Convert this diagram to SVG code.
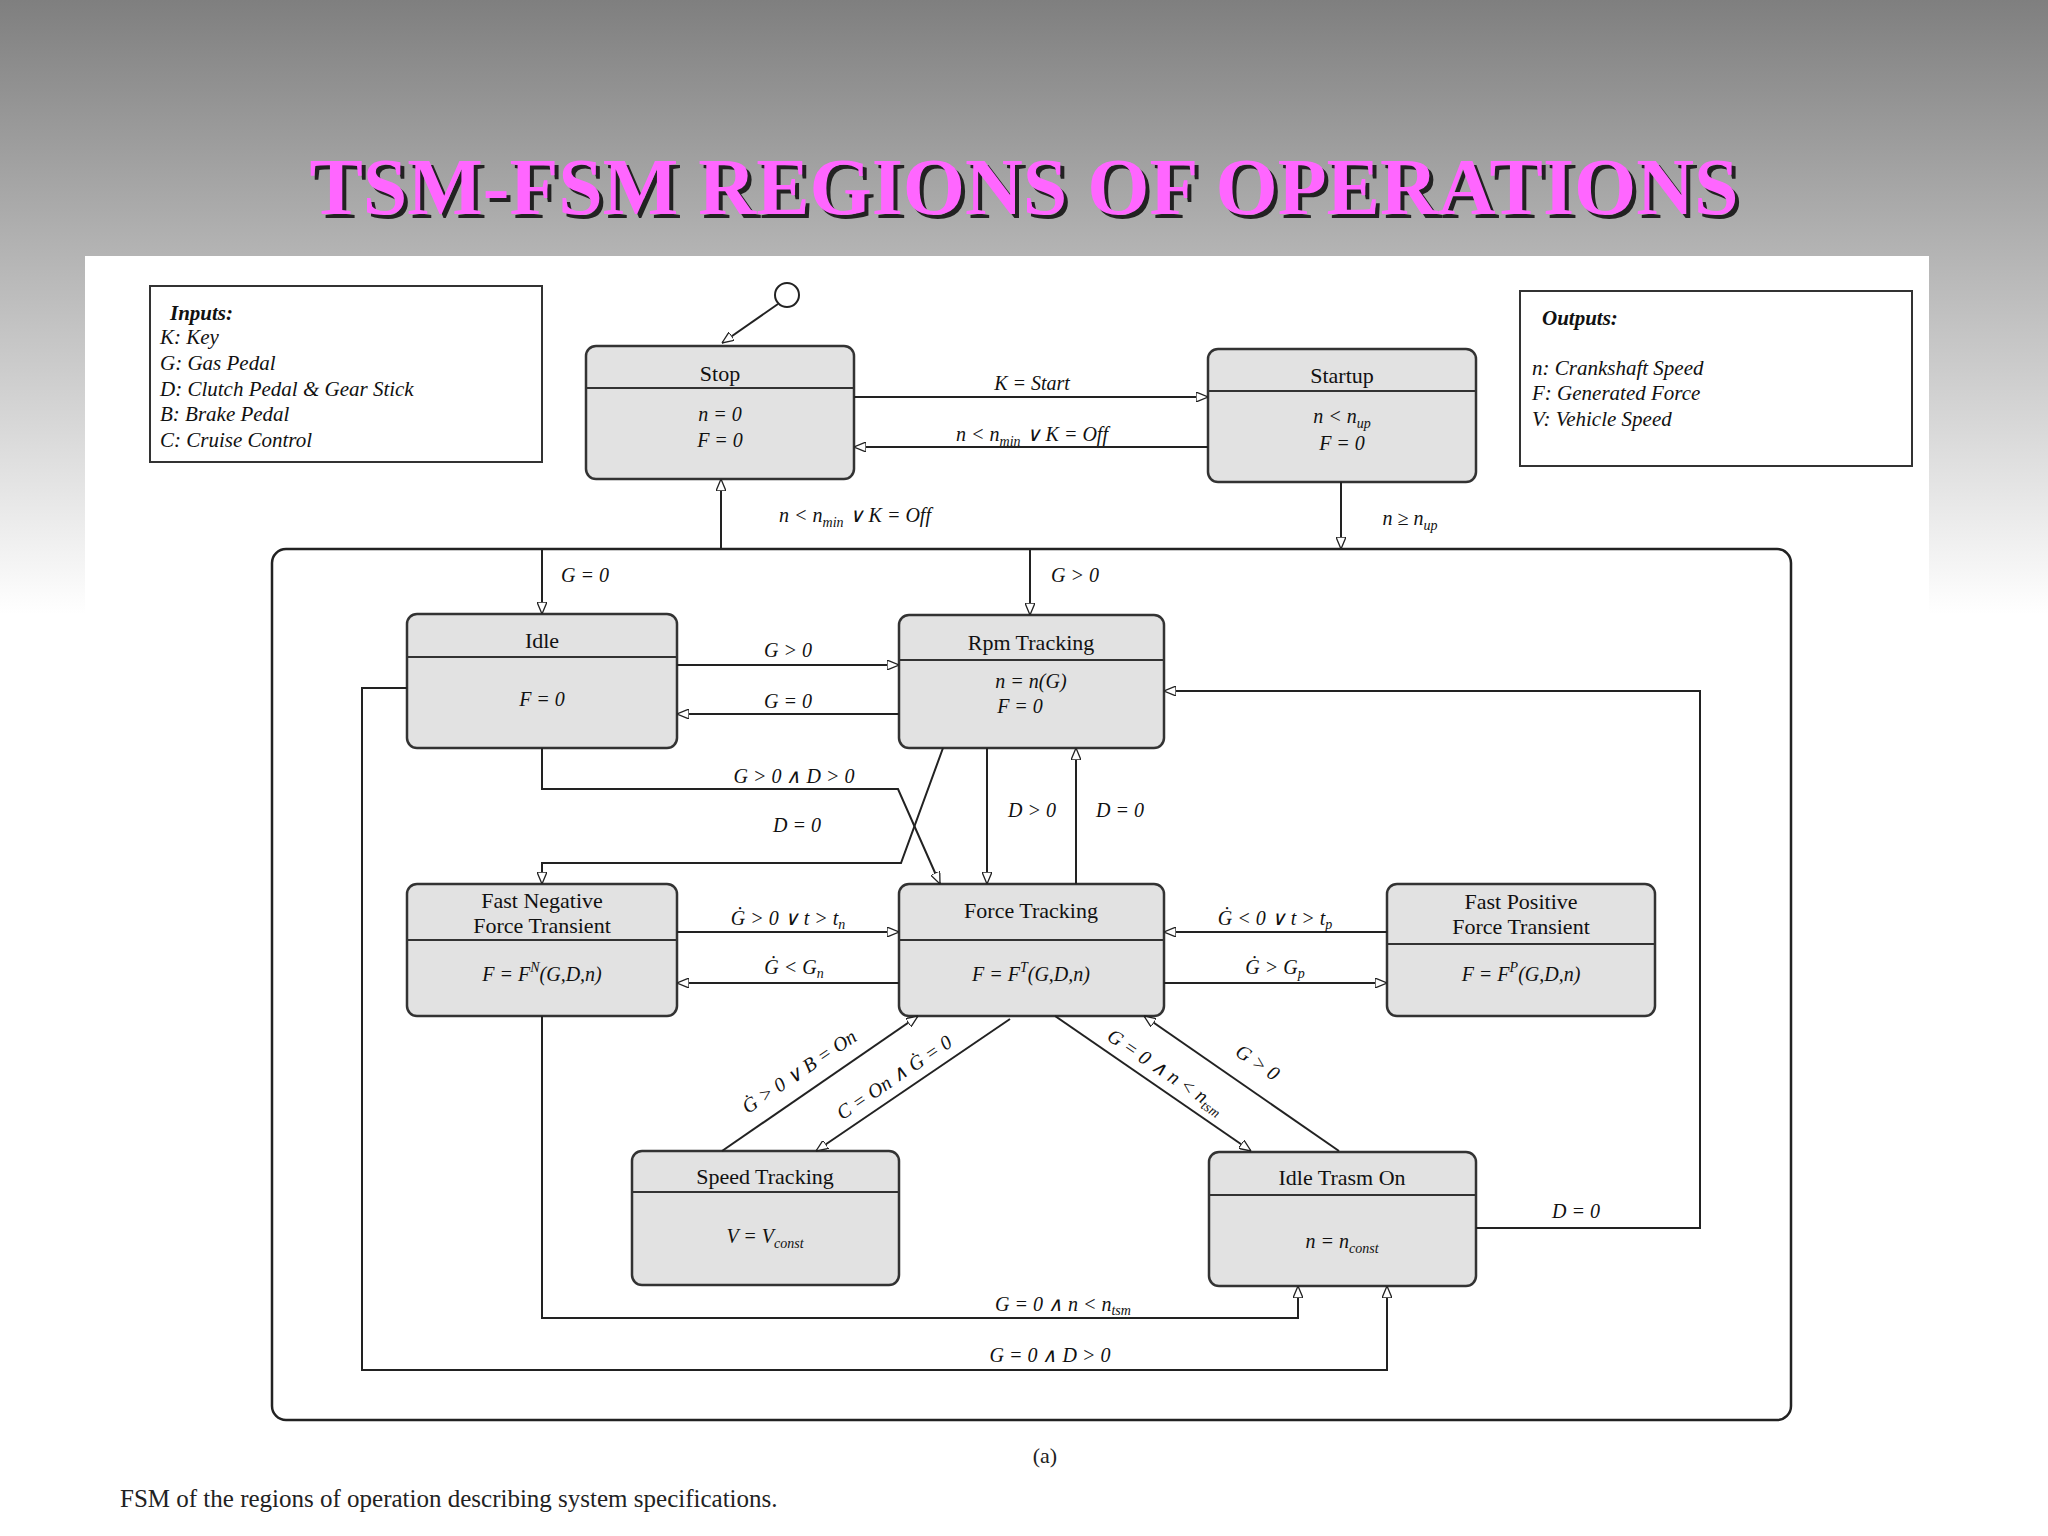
<svg xmlns="http://www.w3.org/2000/svg" width="2048" height="1536" viewBox="0 0 2048 1536">
<defs>
<linearGradient id="bg" x1="0" y1="0" x2="0" y2="1">
<stop offset="0" stop-color="#7f7f7f"/><stop offset="0.4" stop-color="#ffffff"/><stop offset="1" stop-color="#ffffff"/>
</linearGradient>
<marker id="ah" viewBox="0 0 12 10" refX="12" refY="5" markerWidth="12" markerHeight="10" markerUnits="userSpaceOnUse" orient="auto">
<path d="M0,0 L12,5 L0,10 Z" fill="#fff" stroke="#222" stroke-width="1.3"/>
</marker>
</defs>
<style>
.node rect.b{fill:#e2e2e2;stroke:#333;stroke-width:2.5}
.node line{stroke:#333;stroke-width:2}
.t{font-family:"Liberation Serif",serif;font-size:22px;fill:#111;text-anchor:middle}
.i{font-family:"Liberation Serif",serif;font-style:italic;font-size:20px;fill:#111;text-anchor:middle}
.il{font-family:"Liberation Serif",serif;font-style:italic;font-size:21px;fill:#111}
#conn path,#conn line{fill:none;stroke:#222;stroke-width:2}
.a{marker-end:url(#ah)}
</style>
<rect width="2048" height="1536" fill="url(#bg)"/>
<rect x="85" y="256" width="1844" height="1280" fill="#fff"/>
<text x="1028" y="218" font-family="Liberation Serif,serif" font-weight="bold" font-size="80" text-anchor="middle" fill="#222">TSM-FSM REGIONS OF OPERATIONS</text>
<text x="1024" y="214" font-family="Liberation Serif,serif" font-weight="bold" font-size="80" text-anchor="middle" fill="#ff66ff">TSM-FSM REGIONS OF OPERATIONS</text>

<g id="inputs">
<rect x="150" y="286" width="392" height="176" fill="#fff" stroke="#333" stroke-width="2"/>
<text x="170" y="320" class="il" font-weight="bold" font-size="26">Inputs:</text>
<text x="160" y="344" class="il">K: Key</text>
<text x="160" y="370" class="il">G: Gas Pedal</text>
<text x="160" y="396" class="il">D: Clutch Pedal &amp; Gear Stick</text>
<text x="160" y="421" class="il">B: Brake Pedal</text>
<text x="160" y="447" class="il">C: Cruise Control</text>
</g>
<g id="outputs">
<rect x="1520" y="291" width="392" height="175" fill="#fff" stroke="#333" stroke-width="2"/>
<text x="1542" y="325" class="il" font-weight="bold" font-size="26">Outputs:</text>
<text x="1532" y="375" class="il">n:  Crankshaft Speed</text>
<text x="1532" y="400" class="il">F:  Generated Force</text>
<text x="1532" y="426" class="il">V:  Vehicle Speed</text>
</g>
<g id="init"><circle cx="787" cy="295" r="12" fill="#fff" stroke="#222" stroke-width="2"/></g>
<g id="frame"><rect x="272" y="549" width="1519" height="871" rx="14" fill="none" stroke="#222" stroke-width="2.5"/></g>

<g id="stop" class="node"><rect class="b" x="586" y="346" width="268" height="133" rx="10"/><line x1="586" y1="388" x2="854" y2="388"/>
<text class="t" x="720" y="381">Stop</text><text class="i" x="720" y="421">n = 0</text><text class="i" x="720" y="447">F = 0</text></g>
<g id="startup" class="node"><rect class="b" x="1208" y="349" width="268" height="133" rx="10"/><line x1="1208" y1="391" x2="1476" y2="391"/>
<text class="t" x="1342" y="383">Startup</text><text class="i" x="1342" y="423">n &lt; n<tspan font-size="14" dy="5">up</tspan></text><text class="i" x="1342" y="450">F = 0</text></g>
<g id="idle" class="node"><rect class="b" x="407" y="614" width="270" height="134" rx="10"/><line x1="407" y1="657" x2="677" y2="657"/>
<text class="t" x="542" y="648">Idle</text><text class="i" x="542" y="706">F = 0</text></g>
<g id="rpm" class="node"><rect class="b" x="899" y="615" width="265" height="133" rx="10"/><line x1="899" y1="660" x2="1164" y2="660"/>
<text class="t" x="1031" y="650">Rpm Tracking</text><text class="i" x="1031" y="688">n = n(G)</text><text class="i" x="1020" y="713">F = 0</text></g>
<g id="fnft" class="node"><rect class="b" x="407" y="884" width="270" height="132" rx="10"/><line x1="407" y1="940" x2="677" y2="940"/>
<text class="t" x="542" y="908">Fast Negative</text><text class="t" x="542" y="933">Force Transient</text><text class="i" x="542" y="981">F = F<tspan font-size="14" dy="-9">N</tspan><tspan dy="9">(G,D,n)</tspan></text></g>
<g id="ft" class="node"><rect class="b" x="899" y="884" width="265" height="132" rx="10"/><line x1="899" y1="940" x2="1164" y2="940"/>
<text class="t" x="1031" y="918">Force Tracking</text><text class="i" x="1031" y="981">F = F<tspan font-size="14" dy="-9">T</tspan><tspan dy="9">(G,D,n)</tspan></text></g>
<g id="fpft" class="node"><rect class="b" x="1387" y="884" width="268" height="132" rx="10"/><line x1="1387" y1="944" x2="1655" y2="944"/>
<text class="t" x="1521" y="909">Fast Positive</text><text class="t" x="1521" y="934">Force Transient</text><text class="i" x="1521" y="981">F = F<tspan font-size="14" dy="-9">P</tspan><tspan dy="9">(G,D,n)</tspan></text></g>
<g id="speed" class="node"><rect class="b" x="632" y="1151" width="267" height="134" rx="10"/><line x1="632" y1="1192" x2="899" y2="1192"/>
<text class="t" x="765" y="1184">Speed Tracking</text><text class="i" x="765" y="1243">V = V<tspan font-size="14" dy="5">const</tspan></text></g>
<g id="itrasm" class="node"><rect class="b" x="1209" y="1152" width="267" height="134" rx="10"/><line x1="1209" y1="1195" x2="1476" y2="1195"/>
<text class="t" x="1342" y="1185">Idle Trasm On</text><text class="i" x="1342" y="1248">n = n<tspan font-size="14" dy="5">const</tspan></text></g>

<g id="conn">
<line x1="778" y1="304" x2="722" y2="343" class="a"/>
<line x1="854" y1="397" x2="1208" y2="397" class="a"/>
<line x1="1208" y1="447" x2="854" y2="447" class="a"/>
<line x1="721" y1="549" x2="721" y2="479" class="a"/>
<line x1="1341" y1="482" x2="1341" y2="549" class="a"/>
<line x1="542" y1="549" x2="542" y2="614" class="a"/>
<line x1="1030" y1="549" x2="1030" y2="615" class="a"/>
<line x1="677" y1="665" x2="899" y2="665" class="a"/>
<line x1="899" y1="714" x2="677" y2="714" class="a"/>
<path d="M542,748 L542,789 L898,789 L940,884" class="a"/>
<path d="M943,748 L901,863 L542,863 L542,884" class="a"/>
<line x1="987" y1="748" x2="987" y2="884" class="a"/>
<line x1="1076" y1="884" x2="1076" y2="748" class="a"/>
<line x1="677" y1="932" x2="899" y2="932" class="a"/>
<line x1="899" y1="983" x2="677" y2="983" class="a"/>
<line x1="1387" y1="932" x2="1164" y2="932" class="a"/>
<line x1="1164" y1="983" x2="1387" y2="983" class="a"/>
<line x1="722" y1="1151" x2="918" y2="1016" class="a"/>
<line x1="1010" y1="1019" x2="816" y2="1151" class="a"/>
<line x1="1055" y1="1016" x2="1251" y2="1151" class="a"/>
<line x1="1339" y1="1151" x2="1144" y2="1016" class="a"/>
<path d="M1476,1228 L1700,1228 L1700,691 L1164,691" class="a"/>
<path d="M542,1016 L542,1318 L1298,1318 L1298,1286" class="a"/>
<path d="M407,688 L362,688 L362,1370 L1387,1370 L1387,1286" class="a"/>
</g>
<g id="labels">
<text class="i" x="1032" y="390">K = Start</text>
<text class="i" x="1032" y="441">n &lt; n<tspan font-size="14" dy="5">min</tspan><tspan dy="-5"> ∨  K = Off</tspan></text>
<text class="i" x="855" y="522">n &lt; n<tspan font-size="14" dy="5">min</tspan><tspan dy="-5"> ∨  K = Off</tspan></text>
<text class="i" x="1410" y="525">n ≥ n<tspan font-size="14" dy="5">up</tspan></text>
<text class="i" x="585" y="582">G = 0</text>
<text class="i" x="1075" y="582">G &gt; 0</text>
<text class="i" x="788" y="657">G &gt; 0</text>
<text class="i" x="788" y="708">G = 0</text>
<text class="i" x="794" y="783">G &gt; 0  ∧  D &gt; 0</text>
<text class="i" x="797" y="832">D = 0</text>
<text class="i" x="1032" y="817">D &gt; 0</text>
<text class="i" x="1120" y="817">D = 0</text>
<text class="i" x="788" y="925">Ġ &gt; 0 ∨ t &gt; t<tspan font-size="14" dy="4">n</tspan></text>
<text class="i" x="794" y="974">Ġ &lt; G<tspan font-size="14" dy="4">n</tspan></text>
<text class="i" x="1275" y="925">Ġ &lt; 0 ∨ t &gt; t<tspan font-size="14" dy="4">p</tspan></text>
<text class="i" x="1275" y="974">Ġ &gt; G<tspan font-size="14" dy="4">p</tspan></text>
<text class="i" x="803" y="1077" transform="rotate(-34 803 1077)">Ġ &gt; 0 ∨ B = On</text>
<text class="i" x="898" y="1083" transform="rotate(-34 898 1083)">C = On ∧ Ġ = 0</text>
<text class="i" x="1162" y="1077" transform="rotate(34 1162 1077)">G = 0 ∧ n &lt; n<tspan font-size="14" dy="4">tsm</tspan></text>
<text class="i" x="1254" y="1068" transform="rotate(34 1254 1068)">G &gt; 0</text>
<text class="i" x="1576" y="1218">D = 0</text>
<text class="i" x="1063" y="1311">G = 0  ∧  n &lt; n<tspan font-size="14" dy="4">tsm</tspan></text>
<text class="i" x="1050" y="1362">G = 0  ∧  D &gt; 0</text>
<text x="1045" y="1463" font-family="Liberation Serif,serif" font-size="22" text-anchor="middle" fill="#222">(a)</text>
<text x="120" y="1507" font-family="Liberation Serif,serif" font-size="25" fill="#222">FSM of the regions of operation describing system specifications.</text>
</g>
</svg>
